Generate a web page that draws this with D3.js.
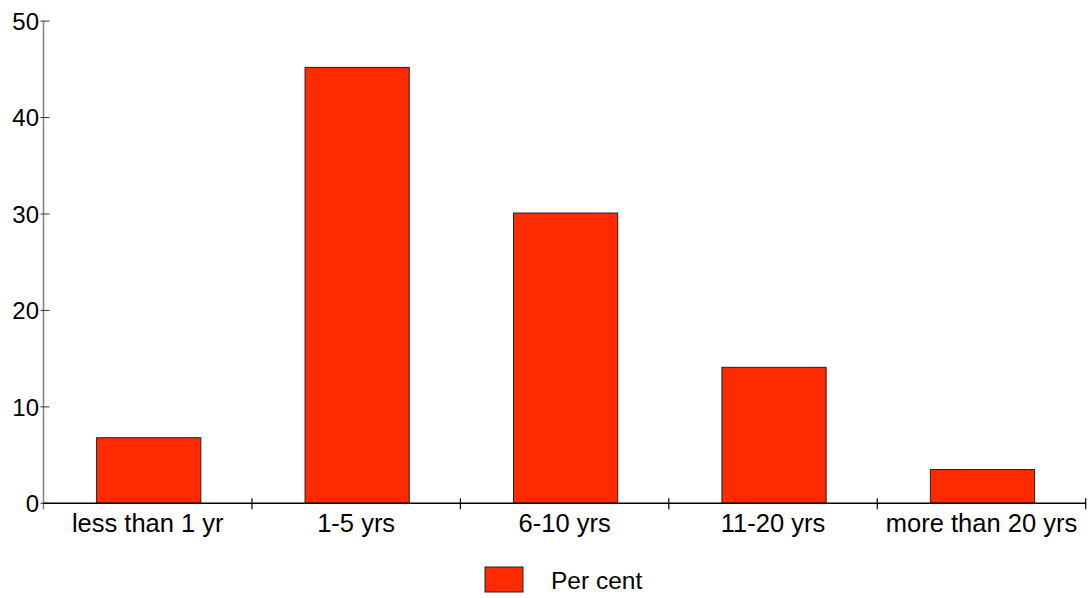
<!DOCTYPE html>
<html><head><meta charset="utf-8">
<script src="https://cdn.jsdelivr.net/npm/d3@7"></script>
<style>body{margin:0;background:#fff}svg{display:block}text{font-family:"Liberation Sans",Arial,sans-serif;fill:#000}</style>
</head><body>
<svg id="c" width="1091" height="598"></svg>
<script>
const categories = ["less than 1 yr","1-5 yrs","6-10 yrs","11-20 yrs","more than 20 yrs"];
const values = [6.8, 45.2, 30.1, 14.1, 3.5];
const yTicks = [0,10,20,30,40,50];
const seriesName = "Per cent";

(function(){
const svg = d3.select("#c");
const mLeft = 43.5, mRight = 1085.7, mTop = 21.1, mBottom = 503.3;
const x = d3.scaleBand().domain(categories).range([mLeft, mRight]).paddingInner(0.5).paddingOuter(0.25);
const xb = d3.scaleBand().domain(categories).range([mLeft, mRight]);
const y = d3.scaleLinear().domain([0,50]).range([mBottom, mTop]);
const fill = "#ff2a00";

// bars
svg.append("g").selectAll("rect").data(values).join("rect")
  .attr("x", (d,i)=>x(categories[i]) + 1)
  .attr("y", d=>y(d))
  .attr("width", x.bandwidth())
  .attr("height", d=>y(0)-y(d))
  .attr("fill", fill).attr("stroke","#222").attr("stroke-width",1);

// y axis
const ya = svg.append("g");
ya.append("line").attr("x1",mLeft).attr("x2",mLeft).attr("y1",mTop).attr("y2",mBottom+6).attr("stroke","#808080").attr("stroke-width",1.5);
ya.selectAll("line.t").data(yTicks).join("line").attr("class","t")
  .attr("x1",mLeft-3).attr("x2",mLeft+6).attr("y1",d=>y(d)).attr("y2",d=>y(d)).attr("stroke","#333").attr("stroke-width",1);
ya.selectAll("text").data(yTicks).join("text")
  .attr("x",mLeft-4.5).attr("y",d=>y(d)+8.7).attr("text-anchor","end").attr("font-size","24px").text(d=>d);

// x axis
const xa = svg.append("g");
xa.append("line").attr("x1",mLeft).attr("x2",mRight).attr("y1",mBottom).attr("y2",mBottom).attr("stroke","#000").attr("stroke-width",1.5);
xa.selectAll("line.t").data(categories).join("line").attr("class","t")
  .attr("x1",d=>xb(d)+xb.bandwidth()).attr("x2",d=>xb(d)+xb.bandwidth())
  .attr("y1",mBottom-5).attr("y2",mBottom+6).attr("stroke","#000").attr("stroke-width",1.2);
xa.selectAll("text").data(categories).join("text")
  .attr("x",d=>xb(d)+xb.bandwidth()/2).attr("y",531.5).attr("text-anchor","middle").attr("font-size","25.5px").text(d=>d);

// legend
const lg = svg.append("g");
lg.append("rect").attr("x",485).attr("y",567).attr("width",38).attr("height",25).attr("fill",fill).attr("stroke","#222").attr("stroke-width",1);
lg.append("text").attr("x",551).attr("y",589.3).attr("font-size","24.5px").text(seriesName);
})();
</script>
</body></html>
